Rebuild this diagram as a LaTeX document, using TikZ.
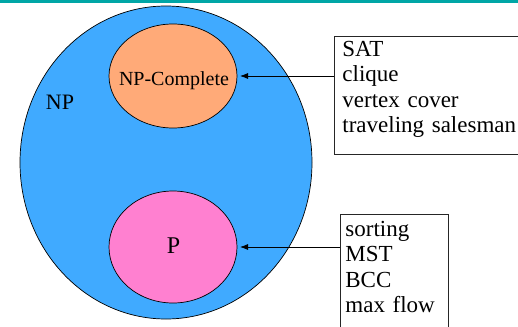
\documentclass[tikz,border=0pt]{standalone}
\usepackage{fontspec}
\setmainfont{Liberation Serif}
\usetikzlibrary{shapes.geometric,arrows.meta}
\definecolor{barteal}{RGB}{0,166,166}
\definecolor{npblue}{RGB}{64,170,255}
\definecolor{npcorange}{RGB}{255,170,120}
\definecolor{ppink}{RGB}{255,128,208}
\def\boxfont{\fontsize{23}{25.5}\selectfont}

\begin{document}
\begin{tikzpicture}[
    x=1pt,y=-1pt,
    set/.style={ellipse,draw=black,line width=0.7pt,inner sep=0pt,outer sep=0pt},
    listbox/.style={draw=black!85,line width=0.8pt,anchor=north west,align=left,inner xsep=7pt,inner ysep=3pt,font=\boxfont},
    member/.style={-{Latex[length=8pt,width=6pt]},line width=0.8pt,shorten >=3pt}
  ]
  \useasboundingbox (0,0) rectangle (518,326);
  \fill[barteal] (0,0) rectangle (518,3.5);

  \node[set,fill=npblue,minimum width=292pt,minimum height=313pt] (np) at (166,162.5) {};
  \node[set,fill=npcorange,minimum width=128pt,minimum height=104pt] (npc) at (173,76) {};
  \node[set,fill=ppink,minimum width=128pt,minimum height=112pt] (pc) at (173,247) {};

  \node[font=\fontsize{22}{26}\selectfont] (nplabel) at (60,102) {NP};
  \node[font=\fontsize{20}{24}\selectfont] (npclabel) at (174,81) {NP-Complete};
  \node[font=\fontsize{24}{28}\selectfont] (plabel) at (173.5,246) {P};

  \node[listbox,inner xsep=8pt,text width=200pt,text height=17pt,text depth=95pt] (hard) at (334,36)
    {SAT\\clique\\vertex cover\\traveling salesman};
  \node[listbox,inner xsep=5pt,text width=98pt,text height=19pt,text depth=110pt] (easy) at (340,214)
    {sorting\\MST\\BCC\\max flow};

  \draw[member] (hard.west |- npc.east) -- (npc.east);
  \draw[member] (easy.west |- pc.east) -- (pc.east);
\end{tikzpicture}
\end{document}
